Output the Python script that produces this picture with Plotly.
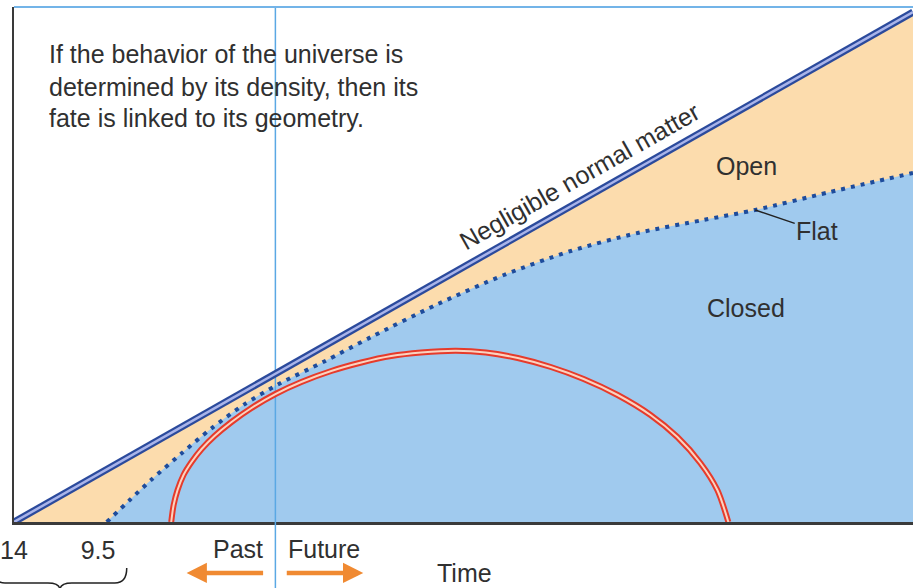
import plotly.graph_objects as go

# ---- data (time in Gyr relative to today; vertical = relative size of universe) ----
tick_vals = [-14, -9.5]
tick_text = ["14", "9.5"]

empty_x = [-14, 34.15]          # "Negligible normal matter"
empty_y = [0, 9.90]

flat_x = [-9.03, -7.80, -6.63, -5.02, -3.42, -1.66, 0.16, 2.62, 5.13, 8.71,
          12.24, 15.82, 19.40, 22.92, 25.70, 29.71, 34.15]
flat_y = [0.0, 0.427, 0.825, 1.334, 1.819, 2.285, 2.674, 3.117, 3.592, 4.233,
          4.796, 5.262, 5.612, 5.864, 6.058, 6.408, 6.777]

closed_x = [-5.58, -5.45, -5.24, -4.92, -4.49, -3.95, -3.26, -2.35, -1.28, 0.0,
            1.39, 2.99, 4.60, 6.20, 7.80, 9.67, 11.27, 12.98, 14.75, 16.51,
            18.33, 20.09, 21.53, 22.76, 23.67, 24.26]
closed_y = [0.0, 0.330, 0.621, 0.913, 1.165, 1.417, 1.670, 1.942, 2.214, 2.485,
            2.718, 2.932, 3.097, 3.223, 3.291, 3.326, 3.291, 3.184, 3.010, 2.777,
            2.466, 2.078, 1.650, 1.146, 0.621, 0.0]

now_x = 0
flat_label_at = (25.70, 6.058)
x_range = [-14, 34.15]
y_range = [0, 10]

# ---- styles ----
FONT = "Liberation Sans, Arial, Helvetica, sans-serif"
FS = 25
TXT = "#303030"
ORANGE_FILL = "#FCDCAD"
BLUE_FILL = "#A0CAEE"
DARK_BLUE = "#2B4A9C"
LIGHT_BLUE_LINE = "#A9B4EA"
RED = "#E63B2B"
PINK = "#FBD3C0"
DOT_BLUE = "#1E4C9C"
NOW_BLUE = "#5AA8E4"
ARROW_ORANGE = "#F08A32"

fig = go.Figure()

fig.add_trace(go.Scatter(x=empty_x, y=empty_y, mode="lines", fill="tozeroy",
                         fillcolor=ORANGE_FILL, line=dict(width=0)))
fig.add_trace(go.Scatter(x=flat_x, y=flat_y, mode="lines", fill="tozeroy",
                         fillcolor=BLUE_FILL, line=dict(width=0, shape="spline", smoothing=0.8)))
fig.add_trace(go.Scatter(x=[now_x, now_x], y=y_range, mode="lines",
                         line=dict(color=NOW_BLUE, width=1.5)))
fig.add_trace(go.Scatter(x=closed_x, y=closed_y, mode="lines",
                         line=dict(color=RED, width=6, shape="spline", smoothing=0.8)))
fig.add_trace(go.Scatter(x=closed_x, y=closed_y, mode="lines",
                         line=dict(color=PINK, width=2, shape="spline", smoothing=0.8)))
fig.add_trace(go.Scatter(x=empty_x, y=empty_y, mode="lines",
                         line=dict(color=DARK_BLUE, width=7)))
fig.add_trace(go.Scatter(x=empty_x, y=empty_y, mode="lines",
                         line=dict(color=LIGHT_BLUE_LINE, width=2.5)))
fig.add_trace(go.Scatter(x=flat_x, y=flat_y, mode="lines",
                         line=dict(color=DOT_BLUE, width=4, dash="4px,6px",
                                   shape="spline", smoothing=0.8)))

# borders / decorations
shapes = [
    dict(type="line", xref="paper", yref="paper", x0=0, x1=1, y0=1, y1=1,
         line=dict(color="#73B4E8", width=2)),
    dict(type="line", xref="x", yref="paper", x0=now_x, x1=now_x, y0=0, y1=-0.15,
         line=dict(color=NOW_BLUE, width=1.5)),
    dict(type="path", xref="paper", yref="paper",
         path=("M 0.1254,-0.0893 Q 0.1254,-0.1184 0.1121,-0.1184 L 0.0644,-0.1184 "
               "Q 0.0511,-0.1184 0.0511,-0.1320 Q 0.0511,-0.1184 0.0377,-0.1184 "
               "L -0.0100,-0.1184 Q -0.0233,-0.1184 -0.0233,-0.0893"),
         line=dict(color="#222222", width=1.5)),
]

def txt(text, x, y, xanchor="center", angle=0):
    return dict(text=text, x=x, y=y, xref="paper", yref="paper", showarrow=False,
                xanchor=xanchor, yanchor="middle", textangle=angle,
                font=dict(family=FONT, size=FS, color=TXT))

annotations = [
    txt("If the behavior of the universe is", 0.0366, 0.9087, "left"),
    txt("determined by its density, then its", 0.0366, 0.8456, "left"),
    txt("fate is linked to its geometry.", 0.0366, 0.7835, "left"),
    txt("Negligible normal matter", 0.6293, 0.6718, angle=-29.5),
    txt("Open", 0.8147, 0.6913),
    txt("Closed", 0.8147, 0.4155),
    txt("Past", 0.2492, -0.0524),
    txt("Future", 0.3446, -0.0524),
    txt("Time", 0.5011, -0.0990),
    dict(text="Flat", x=flat_label_at[0], y=flat_label_at[1], xref="x", yref="y",
         showarrow=True, arrowhead=0, arrowwidth=1.5, arrowcolor="#222222",
         ax=62, ay=21, font=dict(family=FONT, size=FS, color=TXT)),
    dict(text="", x=0.192, y=-0.099, xref="paper", yref="paper", showarrow=True,
         arrowhead=2, arrowsize=0.9, arrowwidth=4.5, arrowcolor=ARROW_ORANGE,
         ax=78, ay=0),
    dict(text="", x=0.3885, y=-0.099, xref="paper", yref="paper", showarrow=True,
         arrowhead=2, arrowsize=0.9, arrowwidth=4.5, arrowcolor=ARROW_ORANGE,
         ax=-78, ay=0),
]

fig.update_layout(
    width=913, height=588,
    margin=dict(l=12, r=0, t=7, b=66),
    paper_bgcolor="white", plot_bgcolor="white",
    showlegend=False, hovermode=False,
    shapes=shapes, annotations=annotations,
    xaxis=dict(range=x_range, showline=True, linecolor="#3a3a3a", linewidth=2.5,
               tickvals=tick_vals, ticktext=tick_text, ticks="outside", ticklen=4,
               tickcolor="rgba(0,0,0,0)", tickfont=dict(family=FONT, size=FS, color=TXT),
               ticklabeloverflow="allow",
               showgrid=False, zeroline=False),
    yaxis=dict(range=y_range, showline=True, linecolor="#3a3a3a", linewidth=2,
               showticklabels=False, ticks="", showgrid=False, zeroline=False),
)

fig.write_html("out.html", config={"displayModeBar": False},
               post_script="document.body.style.margin='0';")
